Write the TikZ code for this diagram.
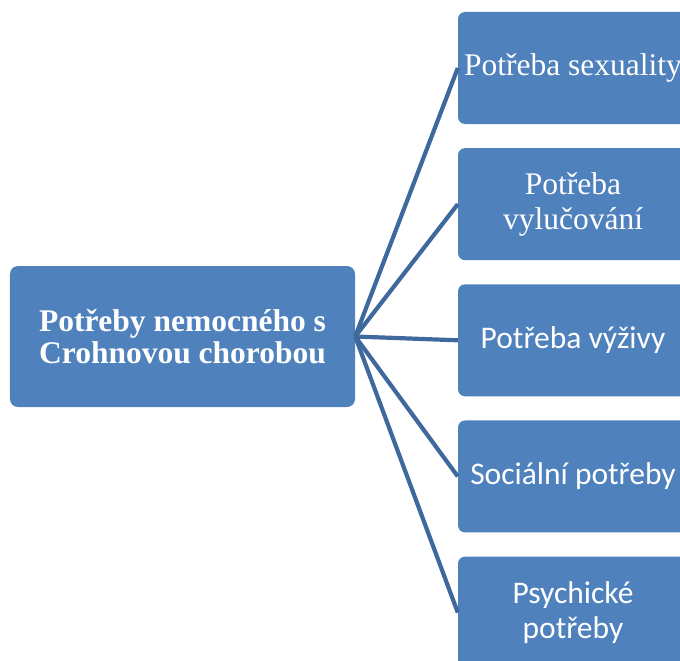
\documentclass[tikz,border=0pt]{standalone}
\usepackage{fontspec}
\setmainfont{Liberation Serif}
\newfontfamily\calibri{Carlito}
\usetikzlibrary{positioning}

\definecolor{boxblue}{HTML}{4F81BD}
\definecolor{linkblue}{HTML}{3F699C}

\begin{document}
\begin{tikzpicture}[x=1bp, y=-1bp, node distance=23.75bp,
        needbox/.style={rectangle, fill=boxblue, text=white, rounded corners=7bp, align=center,
            minimum width=230bp, minimum height=112bp, inner sep=0pt,
            font=\fontsize{31.5bp}{35bp}\selectfont},
        mainbox/.style={rectangle, fill=boxblue, text=white, rounded corners=8bp, align=center,
            minimum width=345bp, minimum height=141bp, inner sep=0pt,
            font=\fontsize{31.5bp}{32bp}\selectfont\bfseries},
        link/.style={draw=linkblue, line width=4.2bp}]
        \useasboundingbox (0,0) rectangle (680,661);
        \clip (0,0) rectangle (680,661);

        %-----Boxes-----

        % Main Box
        \node [mainbox] (main) at (182.5,336.5) {Potřeby nemocného s\\Crohnovou chorobou};

        % Sexuality Box
        \node [needbox] (sex) at (573,68) {Potřeba sexuality};

        % Excretion Box
        \node [needbox, below=of sex] (excr) {Potřeba\\vylučování};

        % Nutrition Box
        \node [needbox, below=of excr, font=\calibri\fontsize{31.5bp}{35bp}\selectfont] (nutr) {Potřeba výživy};

        % Social Box
        \node [needbox, below=of nutr, font=\calibri\fontsize{31.5bp}{35bp}\selectfont] (soc) {Sociální potřeby};

        % Psychic Box
        \node [needbox, below=of soc, font=\calibri\fontsize{31.5bp}{35bp}\selectfont] (psych) {Psychické\\potřeby};

        %-----Links-----
        \draw[link] (main.east) -- (sex.west);
        \draw[link] (main.east) -- (excr.west);
        \draw[link] (main.east) -- (nutr.west);
        \draw[link] (main.east) -- (soc.west);
        \draw[link] (main.east) -- (psych.west);

    \end{tikzpicture}
\end{document}
